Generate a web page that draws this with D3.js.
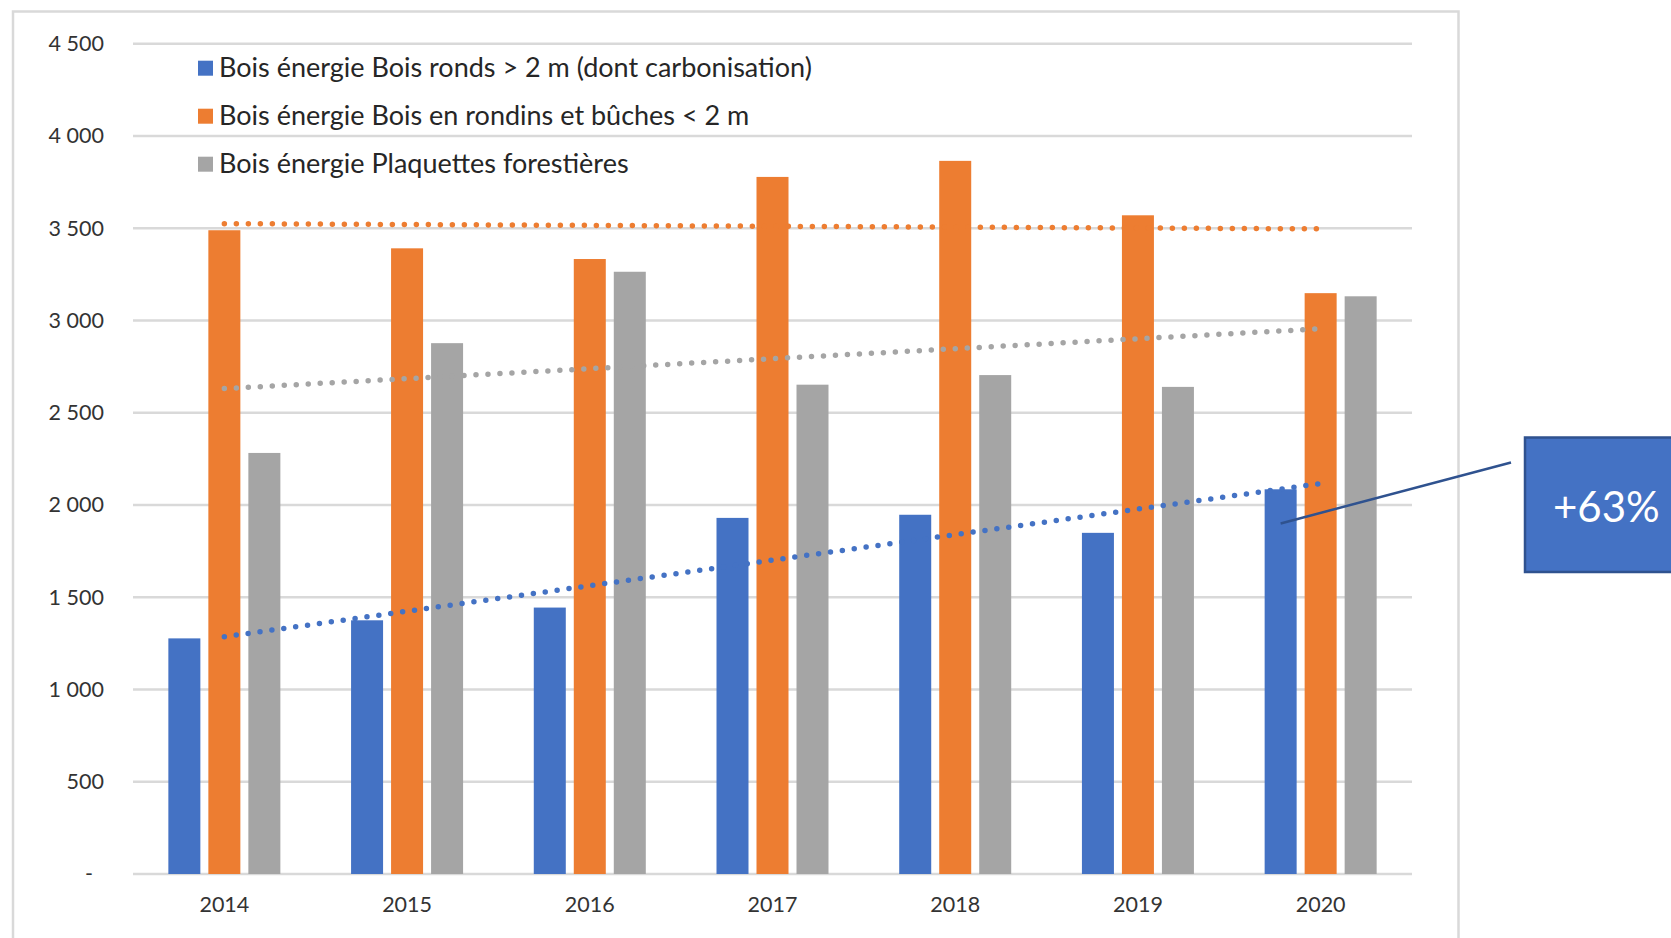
<!DOCTYPE html>
<html>
<head>
<meta charset="utf-8">
<script src="https://cdn.jsdelivr.net/npm/d3@7"></script>
<style>
  html, body { margin: 0; padding: 0; background: #fff; }
  svg { display: block; font-family: Lato, "Open Sans", sans-serif; }
</style>
</head>
<body>
<div class="chart"></div>
<script>
(function (d3) {
// data (milliers de m3)
var years = ["2014", "2015", "2016", "2017", "2018", "2019", "2020"],
    seriesKeys = ["ronds", "rondins", "plaquettes"],
    seriesNames = [
        "Bois énergie Bois ronds > 2 m (dont carbonisation)",
        "Bois énergie Bois en rondins et bûches < 2 m",
        "Bois énergie Plaquettes forestières"
    ],
    seriesColors = ["#4472c4", "#ed7d31", "#a5a5a5"],
    boisRonds = [1277, 1375, 1444, 1930, 1947, 1849, 2085],
    boisRondins = [3489, 3391, 3333, 3778, 3865, 3570, 3148],
    plaquettes = [2282, 2877, 3264, 2652, 2704, 2640, 3131],
    yTicks = [0, 500, 1000, 1500, 2000, 2500, 3000, 3500, 4000, 4500];

var W = 1671, H = 938,
    left = 133, right = 1412, top = 43.7, bottom = 874;

var values = [boisRonds, boisRondins, plaquettes];
var rows = years.map(function (yr, i) {
    var r = {year: yr};
    seriesKeys.forEach(function (k, j) { r[k] = values[j][i]; });
    return r;
});

var fr = d3.formatLocale({decimal: ",", thousands: " ", grouping: [3], currency: ["", " €"]});
var fmt = fr.format(",");

var svg = d3.select(".chart").append("svg")
    .attr("width", W)
    .attr("height", H);

svg.append("rect").attr("width", W).attr("height", H).attr("fill", "#fff");

// chart frame
svg.append("rect")
    .attr("x", 13).attr("y", 11.5)
    .attr("width", 1458.5 - 13).attr("height", 960)
    .attr("fill", "none")
    .attr("stroke", "#d9d9d9")
    .attr("stroke-width", 2.5);

var x0 = d3.scaleBand().domain(years).range([left, right])
    .paddingInner(0.387).paddingOuter(0.1935);
var x1 = d3.scaleBand().domain(seriesKeys).range([0, x0.bandwidth()])
    .paddingInner(0.2);
var y = d3.scaleLinear().domain([0, 4500]).range([bottom, top]);
var color = d3.scaleOrdinal().domain(seriesKeys).range(seriesColors);

// gridlines
svg.append("g").selectAll("line")
    .data(yTicks)
    .join("line")
    .attr("x1", left).attr("x2", right)
    .attr("y1", function (d) { return y(d); })
    .attr("y2", function (d) { return y(d); })
    .attr("stroke", "#d9d9d9")
    .attr("stroke-width", 2.5);

// y axis labels
var yAxis = svg.append("g")
    .attr("transform", "translate(" + left + ",0)")
    .call(d3.axisLeft(y).tickValues(yTicks).tickSize(0).tickPadding(29)
        .tickFormat(function (d) { return d === 0 ? "-" : fmt(d); }));
yAxis.select(".domain").remove();
yAxis.selectAll("text")
    .attr("font-family", "Lato, sans-serif")
    .attr("font-size", 21.5)
    .attr("fill", "#333")
    .filter(function (d) { return d === 0; })
    .attr("x", -40);

// x axis labels
var xAxis = svg.append("g")
    .attr("transform", "translate(0," + bottom + ")")
    .call(d3.axisBottom(x0).tickSize(0).tickPadding(23));
xAxis.select(".domain").remove();
xAxis.selectAll("text")
    .attr("font-family", "Lato, sans-serif")
    .attr("font-size", 21.5)
    .attr("fill", "#333");

// bars
svg.append("g").selectAll("g")
    .data(rows)
    .join("g")
    .attr("transform", function (d) { return "translate(" + x0(d.year) + ",0)"; })
    .selectAll("rect")
    .data(function (d) { return seriesKeys.map(function (k) { return {key: k, value: d[k]}; }); })
    .join("rect")
    .attr("x", function (d) { return x1(d.key); })
    .attr("width", x1.bandwidth())
    .attr("y", function (d) { return y(d.value); })
    .attr("height", function (d) { return bottom - y(d.value); })
    .attr("fill", function (d) { return color(d.key); });

// linear trendlines (least squares, like Excel)
function trend(vals) {
    var n = vals.length, mx = (n - 1) / 2, my = d3.mean(vals), sxy = 0, sxx = 0;
    vals.forEach(function (v, i) { sxy += (i - mx) * (v - my); sxx += (i - mx) * (i - mx); });
    var b = sxy / sxx, a = my - b * mx;
    return [{i: 0, v: a}, {i: n - 1, v: a + b * (n - 1)}];
}
var trendLine = d3.line()
    .x(function (d) { return x0(years[d.i]) + x0.bandwidth() / 2; })
    .y(function (d) { return y(d.v); });

seriesKeys.forEach(function (k, j) {
    svg.append("path")
        .attr("d", trendLine(trend(values[j])))
        .attr("fill", "none")
        .attr("stroke", seriesColors[j])
        .attr("stroke-width", 5.5)
        .attr("stroke-linecap", "round")
        .attr("stroke-dasharray", "0,12");
});

// legend
var legend = svg.append("g").selectAll("g")
    .data(seriesKeys)
    .join("g")
    .attr("transform", function (d, i) { return "translate(198," + (60.7 + i * 48) + ")"; });
legend.append("rect")
    .attr("width", 15).attr("height", 15)
    .attr("fill", function (d) { return color(d); });
legend.append("text")
    .attr("x", 21)
    .attr("y", 16.5)
    .attr("font-size", 27)
    .attr("fill", "#262626")
    .text(function (d, i) { return seriesNames[i]; });

// +63% callout
var first = boisRonds[0], last = boisRonds[boisRonds.length - 1];
svg.append("line")
    .attr("x1", x0("2020") + x1("ronds") + x1.bandwidth() / 2)
    .attr("y1", y(1900))
    .attr("x2", 1511).attr("y2", 462.5)
    .attr("stroke", "#2f528f")
    .attr("stroke-width", 2.5);
svg.append("rect")
    .attr("x", 1525).attr("y", 437.5)
    .attr("width", 200).attr("height", 134.5)
    .attr("fill", "#4472c4")
    .attr("stroke", "#2f528f")
    .attr("stroke-width", 2.5);
svg.append("text")
    .attr("x", 1553).attr("y", 511)
    .attr("dominant-baseline", "middle")
    .attr("font-size", 42)
    .attr("fill", "#fff")
    .text(d3.format("+.0%")((last - first) / first));
})(d3);
</script>
</body>
</html>
